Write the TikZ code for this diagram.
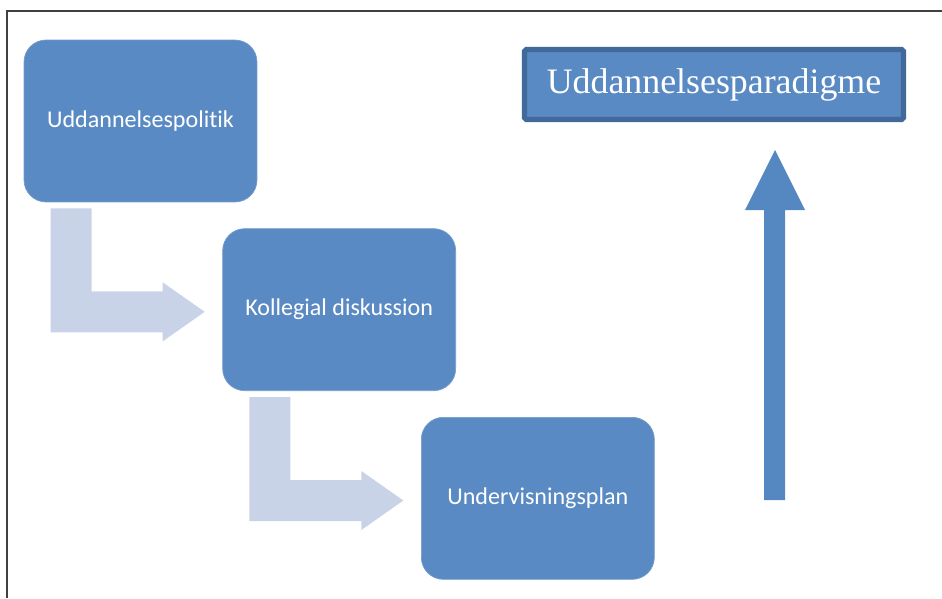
\documentclass[tikz,border=0pt]{standalone}
\usepackage{fontspec}
\setmainfont{Liberation Serif}
\newfontfamily\boxfont[Ligatures={NoCommon,NoContextual}]{Carlito}
\usetikzlibrary{positioning}

\definecolor{stepblue}{HTML}{5A8AC3}
\definecolor{frameblue}{HTML}{41699A}
\definecolor{paleblue}{HTML}{C9D3E7}
\definecolor{upblue}{HTML}{5587C1}
\definecolor{framegray}{HTML}{404040}

\tikzset{
	stage/.style={fill=stepblue, draw=stepblue!85!white, rounded corners=0.44cm,
		minimum width=4.66cm, minimum height=3.24cm, text=white,
		font=\boxfont\fontsize{13.7}{16}\selectfont},
	paradigm/.style={fill=stepblue, draw=frameblue, line width=2.9pt, rounded corners=1pt,
		minimum width=7.58cm, minimum height=1.4cm, text=white,
		font=\fontsize{20.4}{24}\selectfont},
	bent/.style={fill=paleblue},
}

\begin{document}
\begin{tikzpicture}[x=0.02cm, y=-0.02cm]
	\useasboundingbox (0,0) rectangle (942,598);
	\draw[framegray, line width=1.1pt] (7,598) -- (7,11) -- (942,11);
	
	\node[stage] (politik) at (140.5,121) {Uddannelsespolitik};
	\node[stage, below right=0.52cm and -0.7cm of politik] (diskussion) {Kollegial diskussion};
	\node[stage, below right=0.52cm and -0.7cm of diskussion] (plan) {Undervisningsplan};
	
	\node[paradigm] (paradigm) at (714,84.5) {Uddannelsesparadigme};
	
	% bent arrows between the stages
	\foreach \b in {politik, diskussion}
		\fill[bent, shift={(\b.south west)}] (27,6) -- (68,6) -- (68,89) -- (139,89) -- (139,80)
			-- (181,109.5) -- (139,139) -- (139,130) -- (27,130) -- cycle;
	
	% arrow up to the paradigm
	\fill[upblue] (764,500) -- (764,210) -- (745,210) -- (775,150) -- (805,210) -- (785,210)
		-- (785,500) -- cycle;
\end{tikzpicture}
\end{document}
